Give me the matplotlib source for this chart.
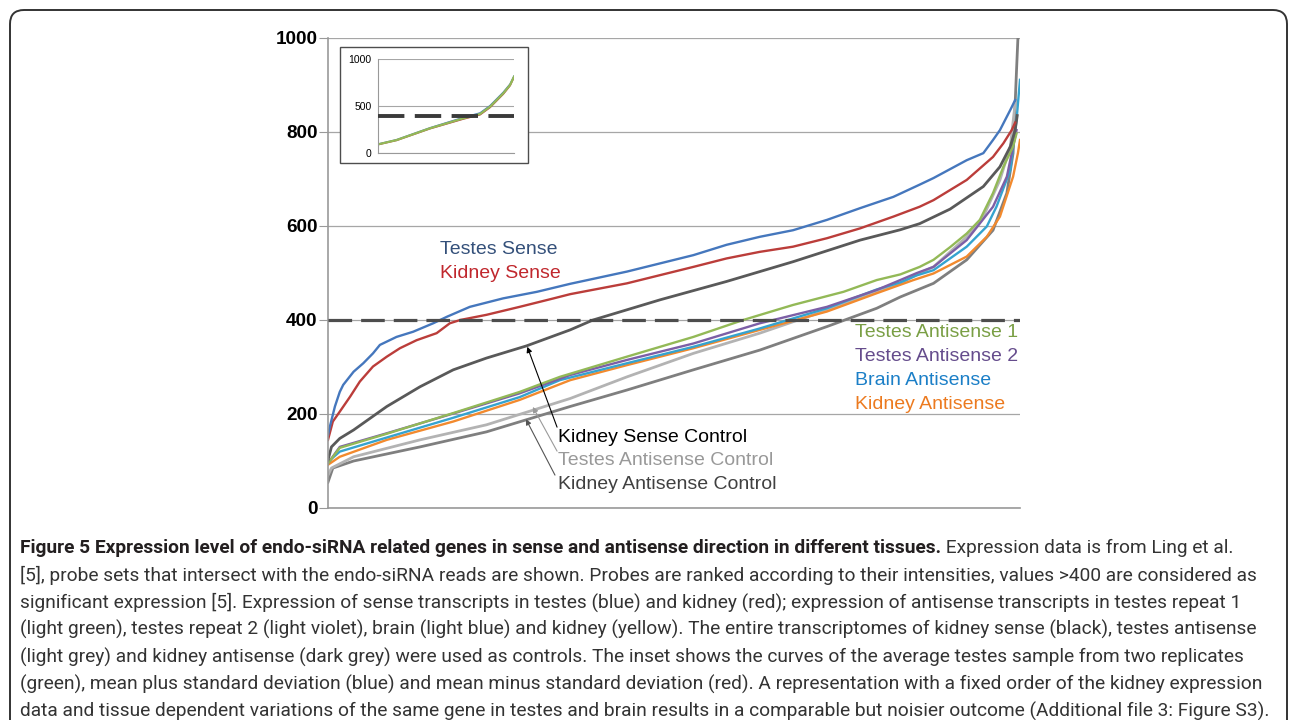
import matplotlib
matplotlib.use("Agg")
import matplotlib.pyplot as plt
from matplotlib.patches import FancyBboxPatch, Rectangle
from matplotlib.transforms import IdentityTransform

plt.rcParams['font.family'] = ['Liberation Sans', 'DejaVu Sans']
plt.rcParams['lines.scale_dashes'] = False

# ranked probe sets (rank scaled to 0..1000) and expression values
testes_sense_x = [0, 3, 10, 17, 22, 37, 51, 65, 75, 99, 123, 152, 172, 205, 253, 302, 350, 432, 528, 576,
                  624, 672, 721, 769, 817, 855, 875, 923, 947, 961, 971, 986, 993]
testes_sense_y = [155, 175, 216, 247, 262, 290, 308, 329, 347, 364, 375, 393, 407, 428, 446, 460, 477, 503, 538, 560,
                  577, 591, 613, 638, 662, 688, 702, 740, 755, 783, 804, 847, 868]

kidney_sense_x = [0, 7, 17, 32, 46, 65, 85, 104, 128, 157, 176, 191, 229, 277, 326, 350, 432, 528, 576, 624,
                  672, 721, 769, 817, 855, 875, 923, 961, 976, 988, 993]
kidney_sense_y = [145, 184, 205, 237, 269, 301, 322, 340, 357, 372, 393, 400, 411, 428, 446, 455, 478, 513, 531, 545,
                  556, 574, 595, 620, 641, 655, 698, 747, 776, 804, 820]

kidney_sense_ctrl_x = [0, 5, 17, 37, 85, 133, 181, 229, 287, 350, 383, 480, 576, 672, 769, 827, 855, 899, 947,
                       971, 986, 993, 996]
kidney_sense_ctrl_y = [102, 130, 148, 166, 216, 258, 294, 319, 345, 379, 400, 443, 482, 524, 570, 592, 605, 636, 684,
                       726, 769, 804, 835]

testes_as1_x = [0, 17, 85, 181, 277, 335, 432, 528, 600, 672, 745, 793, 827, 855, 875, 899, 923, 942, 961, 976,
                990, 995]
testes_as1_y = [95, 128, 158, 202, 247, 279, 322, 364, 400, 432, 460, 485, 497, 513, 528, 555, 584, 613, 670, 726,
                769, 797]

testes_as2_x = [0, 17, 85, 181, 277, 350, 432, 528, 624, 721, 793, 827, 851, 875, 923, 961, 981, 995]
testes_as2_y = [95, 130, 159, 201, 244, 283, 315, 350, 393, 428, 464, 485, 500, 513, 570, 641, 705, 804]

brain_as_x = [0, 17, 85, 181, 277, 335, 432, 528, 624, 721, 793, 827, 851, 875, 923, 952, 966, 986, 995, 1000]
brain_as_y = [98, 120, 150, 192, 236, 272, 308, 343, 382, 425, 465, 480, 495, 506, 556, 599, 641, 719, 826, 911]

kidney_as_x = [0, 17, 85, 181, 277, 350, 432, 528, 624, 721, 793, 846, 875, 923, 952, 971, 990, 997, 1000]
kidney_as_y = [92, 109, 145, 184, 230, 272, 304, 340, 379, 418, 457, 485, 499, 535, 577, 620, 705, 755, 783]

testes_as_ctrl_x = [0, 5, 37, 133, 229, 350, 432, 528, 624, 721, 793, 827, 855, 875, 923, 947, 971, 986, 993]
testes_as_ctrl_y = [70, 85, 109, 145, 177, 233, 279, 329, 372, 421, 460, 478, 500, 513, 577, 620, 698, 769, 861]

kidney_as_ctrl_x = [0, 7, 37, 133, 229, 350, 432, 528, 624, 721, 793, 827, 875, 923, 961, 981, 990, 995, 997]
kidney_as_ctrl_y = [55, 85, 100, 130, 162, 216, 251, 294, 336, 386, 425, 449, 478, 528, 591, 670, 755, 932, 1000]

# inset: average testes sample, mean +/- standard deviation
inset_x = [0, 137, 382, 627, 750, 824, 921, 971, 1000]
inset_mean = [95, 141, 266, 372, 418, 496, 638, 727, 815]
inset_plus = [97, 144, 270, 380, 428, 506, 648, 735, 820]
inset_minus = [93, 138, 262, 365, 410, 488, 630, 720, 810]

threshold = 400
y_ticks = [0, 200, 400, 600, 800, 1000]

caption_bold = ("Figure 5 Expression level of endo-siRNA related genes in sense and antisense "
                "direction in different tissues.")
caption_lines = [
    " Expression data is from Ling et al.",
    "[5], probe sets that intersect with the endo-siRNA reads are shown. Probes are ranked according to their "
    "intensities, values >400 are considered as",
    "significant expression [5]. Expression of sense transcripts in testes (blue) and kidney (red); expression of "
    "antisense transcripts in testes repeat 1",
    "(light green), testes repeat 2 (light violet), brain (light blue) and kidney (yellow). The entire "
    "transcriptomes of kidney sense (black), testes antisense",
    "(light grey) and kidney antisense (dark grey) were used as controls. The inset shows the curves of the "
    "average testes sample from two replicates",
    "(green), mean plus standard deviation (blue) and mean minus standard deviation (red). A representation "
    "with a fixed order of the kidney expression",
    "data and tissue dependent variations of the same gene in testes and brain results in a comparable but "
    "noisier outcome (Additional file 3: Figure S3).",
]

W, H = 1290, 720
fig = plt.figure(figsize=(W / 100, H / 100), dpi=100)

# rounded frame around the whole figure panel
frame = FancyBboxPatch((10, -30), 1277, 740, boxstyle="round,pad=0,rounding_size=14",
                       transform=IdentityTransform(), fc='none', ec='#333333', lw=1.4)
fig.patches.append(frame)

ax = fig.add_axes([328 / W, 1 - 508 / H, 692 / W, 470 / H])
ax.set_xlim(0, 1000)
ax.set_ylim(0, 1000)
ax.set_yticks(y_ticks)
ax.set_yticklabels([str(t) for t in y_ticks], fontweight='bold', fontsize=13.6)
ax.set_xticks([])
ax.tick_params(axis='y', length=6.5, width=0.8, color='#999999', pad=1)
for s in ['top', 'right']:
    ax.spines[s].set_visible(False)
ax.spines['left'].set_color('#999999')
ax.spines['bottom'].set_color('#999999')
ax.spines['left'].set_linewidth(1.2)
ax.spines['bottom'].set_linewidth(1.2)
ax.grid(axis='y', color='#a6a6a6', lw=0.9)
ax.set_axisbelow(True)

ax.axhline(threshold, color='#4d4d4d', lw=2.3, dashes=(17, 6.5), zorder=5)

lw = 1.7
ax.plot(kidney_as_ctrl_x, kidney_as_ctrl_y, color='#7f7f7f', lw=2.0)
ax.plot(testes_as_ctrl_x, testes_as_ctrl_y, color='#b3b3b3', lw=2.0)
ax.plot(kidney_as_x, kidney_as_y, color='#f28a2e', lw=lw)
ax.plot(brain_as_x, brain_as_y, color='#35a3cf', lw=lw)
ax.plot(testes_as2_x, testes_as2_y, color='#7c5fa6', lw=lw)
ax.plot(testes_as1_x, testes_as1_y, color='#93b957', lw=lw)
ax.plot(kidney_sense_ctrl_x, kidney_sense_ctrl_y, color='#595959', lw=2.0)
ax.plot(kidney_sense_x, kidney_sense_y, color='#bb3d3a', lw=lw)
ax.plot(testes_sense_x, testes_sense_y, color='#4577bd', lw=lw)

fs = 14
ax.text(162, 549, "Testes Sense", color='#34507a', fontsize=fs, va='center')
ax.text(162, 498, "Kidney Sense", color='#c0272d', fontsize=fs, va='center')
ax.text(762, 374, "Testes Antisense 1", color='#7a9f45', fontsize=fs, va='center')
ax.text(762, 323, "Testes Antisense 2", color='#654c8c', fontsize=fs, va='center')
ax.text(762, 272, "Brain Antisense", color='#1b7fc7', fontsize=fs, va='center')
ax.text(762, 221, "Kidney Antisense", color='#ec7a1f', fontsize=fs, va='center')
ax.text(332, 151, "Kidney Sense Control", color='black', fontsize=fs, va='center')
ax.text(332, 102, "Testes Antisense Control", color='#999999', fontsize=fs, va='center')
ax.text(332, 51, "Kidney Antisense Control", color='#404040', fontsize=fs, va='center')

arrow = dict(arrowstyle='-|>', lw=0.8, mutation_scale=8, shrinkA=0, shrinkB=0)
ax.annotate('', xy=(288, 343), xytext=(331, 172), arrowprops=dict(arrow, color='black'))
ax.annotate('', xy=(296, 215), xytext=(331, 121), arrowprops=dict(arrow, color='#9a9a9a'))
ax.annotate('', xy=(286, 189), xytext=(328, 70), arrowprops=dict(arrow, color='#555555'))

# inset box and axes
box = Rectangle((340 / W, 1 - 163 / H), 188 / W, 116 / H, transform=fig.transFigure,
                fc='white', ec='#4d4d4d', lw=1.0, zorder=3)
fig.patches.append(box)

ins = fig.add_axes([378 / W, 1 - 153.3 / H, 136 / W, 94 / H], zorder=4)
ins.patch.set_alpha(0)
ins.set_xlim(0, 1000)
ins.set_ylim(0, 1000)
ins.set_yticks([0, 500, 1000])
ins.set_yticklabels(['0', '500', '1000'], fontsize=7.5)
ins.set_xticks([])
ins.tick_params(axis='y', length=0, pad=4.5)
for s in ['top', 'right']:
    ins.spines[s].set_visible(False)
ins.spines['left'].set_color('#999999')
ins.spines['bottom'].set_color('#999999')
ins.grid(axis='y', color='#a6a6a6', lw=0.8)
ins.set_axisbelow(True)
ins.axhline(threshold, color='#3a3a3a', lw=2.8, dashes=(19, 7.5), zorder=5)
ins.plot(inset_x, inset_plus, color='#4577bd', lw=1.2)
ins.plot(inset_x, inset_minus, color='#bb3d3a', lw=1.2)
ins.plot(inset_x, inset_mean, color='#93b957', lw=1.6)

# caption, sized so the last line spans the panel width
cap_font = 'Roboto'
r = fig.canvas.get_renderer()
probe = fig.text(0, 0, caption_lines[6], fontsize=12, family=cap_font)
cap_fs = 12 * 1248 / probe.get_window_extent(r).width
probe.remove()

line_y = [548 + i * 27.3 for i in range(7)]
tb = fig.text(20 / W, 1 - line_y[0] / H, caption_bold, fontsize=cap_fs, family=cap_font,
              fontweight='bold', color='#231f20', va='center')
bx = tb.get_window_extent(r).x1
fig.text(bx / W, 1 - line_y[0] / H, caption_lines[0], fontsize=cap_fs, family=cap_font,
         color='#333333', va='center')
for i in range(1, 7):
    fig.text(20 / W, 1 - line_y[i] / H, caption_lines[i], fontsize=cap_fs, family=cap_font,
             color='#333333', va='center')

fig.savefig('out.png', dpi=100)
